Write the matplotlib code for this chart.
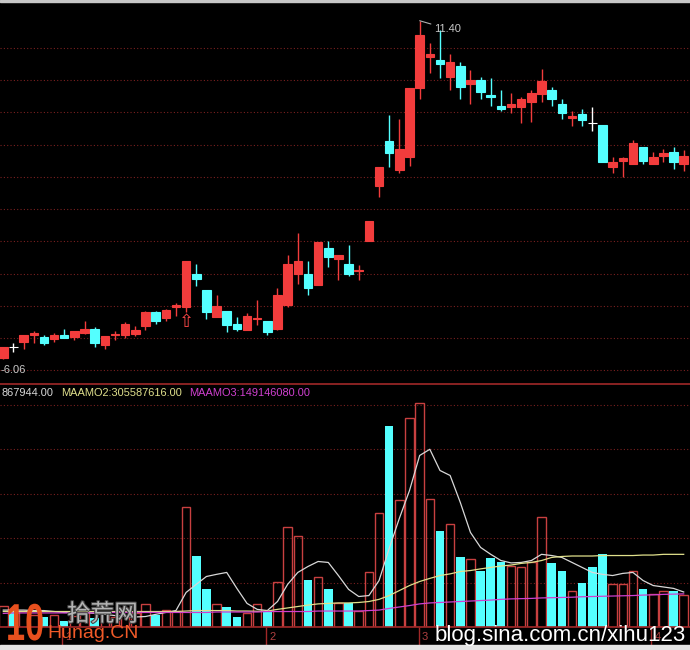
import numpy as np
import matplotlib.pyplot as plt
from matplotlib.patches import Rectangle, PathPatch
from matplotlib.textpath import TextPath
from matplotlib.font_manager import FontProperties
from matplotlib.transforms import Affine2D, IdentityTransform
import matplotlib.patheffects as pe

plt.rcParams['font.family'] = ['Liberation Sans', 'DejaVu Sans']

# 日K线: 开 / 收 / 高 / 低
opens = [6.07, 6.24, 6.32, 6.44, 6.40, 6.37, 6.43, 6.40, 6.47, 6.53,
         6.28, 6.43, 6.43, 6.45, 6.57, 6.80, 6.70, 6.88, 6.88, 7.39,
         7.15, 6.72, 6.82, 6.60, 6.51, 6.68, 6.66, 6.53, 6.90, 7.40,
         7.39, 7.23, 7.81, 7.63, 7.55, 7.44, 7.92, 8.79, 9.50, 9.04,
         9.25, 10.34, 10.82, 10.78, 10.51, 10.68, 10.40, 10.47, 10.22, 10.06,
         10.04, 10.04, 10.11, 10.24, 10.31, 10.09, 9.87, 9.92, 9.78, 9.76,
         9.09, 9.18, 9.14, 9.41, 9.14, 9.26, 9.32, 9.14]
closes = [6.24, 6.24, 6.44, 6.46, 6.31, 6.44, 6.39, 6.49, 6.53, 6.30,
          6.41, 6.45, 6.60, 6.52, 6.80, 6.65, 6.83, 6.90, 7.61, 7.32,
          6.80, 6.89, 6.59, 6.53, 6.73, 6.70, 6.48, 7.06, 7.56, 7.61,
          7.18, 7.90, 7.66, 7.70, 7.40, 7.46, 8.23, 9.09, 9.31, 9.38,
          10.34, 11.17, 10.88, 10.72, 10.74, 10.35, 10.47, 10.28, 10.19, 10.01,
          10.08, 10.17, 10.25, 10.45, 10.17, 9.94, 9.89, 9.83, 9.78, 9.16,
          9.16, 9.23, 9.47, 9.18, 9.25, 9.31, 9.16, 9.27]
highs = [6.24, 6.31, 6.44, 6.49, 6.43, 6.46, 6.53, 6.49, 6.65, 6.56,
         6.41, 6.49, 6.64, 6.57, 6.82, 6.82, 6.85, 6.94, 7.61, 7.55,
         7.15, 7.06, 6.82, 6.72, 6.78, 6.99, 6.66, 7.17, 7.69, 8.05,
         7.61, 7.90, 7.92, 7.70, 7.85, 7.54, 8.23, 9.09, 9.91, 9.84,
         10.34, 11.40, 11.05, 11.25, 10.87, 10.75, 10.62, 10.51, 10.49, 10.31,
         10.25, 10.19, 10.31, 10.63, 10.35, 10.17, 9.97, 10.01, 10.04, 9.76,
         9.24, 9.25, 9.52, 9.41, 9.33, 9.38, 9.41, 9.35]
lows = [6.06, 6.16, 6.22, 6.30, 6.27, 6.32, 6.39, 6.35, 6.45, 6.24,
        6.22, 6.35, 6.39, 6.41, 6.52, 6.61, 6.65, 6.74, 6.80, 7.20,
        6.68, 6.72, 6.48, 6.49, 6.51, 6.59, 6.44, 6.51, 6.88, 7.24,
        7.06, 7.23, 7.51, 7.31, 7.36, 7.30, 7.92, 8.61, 9.09, 9.00,
        9.10, 10.16, 10.58, 10.50, 10.30, 10.17, 10.09, 10.16, 10.05, 9.97,
        9.94, 9.79, 9.80, 10.12, 10.05, 9.84, 9.74, 9.74, 9.66, 9.16,
        9.00, 8.93, 9.14, 9.13, 9.14, 9.17, 9.05, 9.03]

# 成交额 (百万元) 及三条均线
amount = [90, 61, 69, 52, 40, 52, 27, 48, 61, 36,
          61, 44, 78, 57, 97, 52, 72, 69, 503, 298,
          160, 97, 86, 44, 58, 95, 62, 188, 419, 380,
          198, 209, 160, 100, 100, 66, 230, 480, 842, 531,
          877, 940, 536, 402, 431, 293, 286, 234, 291, 272,
          258, 251, 272, 461, 268, 234, 153, 184, 251, 305,
          179, 179, 233, 160, 137, 153, 150, 135]
maamo1 = [71, 71, 71, 69, 69, 65, 61, 61, 61, 57,
          53, 48, 44, 42, 44, 53, 61, 69, 145, 179,
          212, 221, 229, 162, 99, 74, 69, 107, 179, 229,
          254, 275, 271, 216, 158, 128, 132, 195, 330, 456,
          573, 720, 746, 657, 636, 523, 397, 334, 305, 279,
          269, 271, 279, 305, 300, 292, 271, 250, 229, 221,
          216, 225, 229, 195, 174, 168, 162, 147]
maamo2 = [65, 65, 65, 65, 65, 65, 65, 65, 65, 65,
          65, 65, 65, 65, 65, 65, 65, 65, 67, 69,
          69, 69, 69, 67, 67, 66, 67, 74, 80, 86,
          92, 97, 99, 101, 101, 103, 107, 116, 132, 153,
          174, 191, 204, 216, 223, 233, 237, 244, 250, 256,
          260, 267, 271, 279, 292, 296, 298, 298, 298, 300,
          300, 300, 300, 302, 302, 305, 305, 305]
maamo3 = [57, 59, 59, 59, 59, 59, 59, 59, 59, 59,
          61, 61, 61, 61, 61, 61, 61, 61, 61, 61,
          61, 63, 63, 63, 63, 63, 65, 65, 65, 65,
          65, 67, 67, 67, 67, 67, 69, 71, 78, 84,
          90, 97, 101, 103, 105, 107, 109, 111, 113, 116,
          118, 119, 120, 122, 123, 124, 125, 127, 128, 129,
          130, 131, 132, 134, 135, 137, 138, 139]

legend_txt = ['867944.00', 'MAAMO2:305587616.00', 'MAAMO3:149146080.00']
buy_sig = [18]
month_pos = [5.8, 25.9, 40.9, 63.8]
month_lbl = ['1', '2', '3', '4']

RED = '#f23c3c'
RED_EDGE = '#c84040'
CYAN = '#54ffff'
GRID = '#7a2020'
BG = 'black'
W, H = 690, 650

fig = plt.figure(figsize=(6.9, 6.5), dpi=100, facecolor=BG)


def box(top, bottom):
    # 像素行 -> figure 坐标
    return [0, 1 - bottom / H, 1, (bottom - top) / H]


x = np.arange(len(opens))
o, c = np.array(opens), np.array(closes)
up = c > o
col = np.where(up, RED, np.where(c < o, CYAN, 'white'))
XLIM = (-0.325, 67.62)

# ---- K线 ----
ax = fig.add_axes(box(2, 383.5))
ax.set_facecolor(BG)
ax.set_xlim(*XLIM)
ax.set_ylim(5.667, 11.696)
for v in np.linspace(5.873, 10.973, 11):
    ax.axhline(v, color=GRID, lw=0.8, ls=(0, (1, 2)), zorder=0)
ax.vlines(x, lows, highs, colors=col, lw=1, zorder=2)
ax.bar(x, np.abs(c - o), bottom=np.minimum(o, c), width=0.84,
       color=col, edgecolor=col, lw=0.8, zorder=3)

hi = int(np.argmax(highs))
ax.annotate(f'{highs[hi]:.2f}', xy=(hi, highs[hi]), xytext=(14, -8),
            textcoords='offset pixels', color='#c8c8c8', fontsize=8,
            ha='left', va='center',
            arrowprops=dict(arrowstyle='-', color='#b0b0b0', lw=0.8,
                            shrinkA=0, shrinkB=0))
lo = int(np.argmin(lows))
ax.annotate(f'-{lows[lo]:.2f}', xy=(lo, lows[lo]), xytext=(-3, -11),
            textcoords='offset pixels', color='#c8c8c8', fontsize=8,
            ha='left', va='center')
for i in buy_sig:
    ax.annotate('⇧', xy=(i, lows[i]), xytext=(0, -10), textcoords='offset pixels',
                ha='center', va='center', color='#ff4848', fontsize=13,
                family=['DejaVu Sans'])
ax.set_xticks([])
ax.set_yticks([])
for s in ax.spines.values():
    s.set_visible(False)

# ---- 成交额 ----
av = fig.add_axes(box(384, 627))
av.set_facecolor(BG)
av.set_xlim(*XLIM)
av.set_ylim(0, 1020)
for v in [186.5, 373, 559.5, 746, 932.5]:
    av.axhline(v, color=GRID, lw=0.8, ls=(0, (1, 2)), zorder=0)
amt = np.array(amount)
av.bar(x[up], amt[up], width=0.84, facecolor='none', edgecolor=RED_EDGE, lw=1, zorder=2)
av.bar(x[~up], amt[~up], width=0.84, color=CYAN, lw=0, zorder=2)
av.plot(x, maamo1, color='#d8d8d8', lw=0.9, zorder=4)
av.plot(x, maamo2, color='#e0e08c', lw=0.9, zorder=4)
av.plot(x, maamo3, color='#d040d0', lw=0.9, zorder=4)
av.set_xticks([])
av.set_yticks([])
for k, s in av.spines.items():
    if k in ('top', 'bottom'):
        s.set_color('#a02828')
        s.set_linewidth(1.2)
    else:
        s.set_visible(False)

# ---- 月份刻度条 ----
am = fig.add_axes(box(627, 645))
am.set_facecolor(BG)
am.set_xlim(*XLIM)
am.set_ylim(0, 1)
am.vlines(month_pos, 0, 1, colors='#a02828', lw=1)
for p, t in zip(month_pos, month_lbl):
    am.text(p + 0.3, 0.45, t, color='#b04040', fontsize=8, ha='left', va='center')
am.axis('off')

# 指标名称
fig.text(2 / W, 1 - 393 / H, legend_txt[0], color='#d8d8d8', fontsize=7.9, va='center')
fig.text(61 / W, 1 - 393 / H, legend_txt[1], color='#e0e08c', fontsize=7.9, va='center')
fig.text(189 / W, 1 - 393 / H, legend_txt[2], color='#d040d0', fontsize=7.9, va='center')

# 水印: 窄体 "10" 标志
logo = TextPath((0, 0), '10', size=52,
                prop=FontProperties(family='Liberation Sans', weight='bold'))
fig.add_artist(PathPatch(logo, color='#e8501e', lw=0,
                         transform=Affine2D().scale(0.66, 1).translate(6, H - 640)
                         + IdentityTransform()))
fig.text(67 / W, 1 - 621 / H, '拾荒网', color='#b4b4b4', fontsize=17,
         family=['Noto Sans CJK SC'], va='baseline',
         path_effects=[pe.withStroke(linewidth=1.5, foreground='#404040')])
fig.text(47 / W, 1 - 638 / H, 'Hunag.CN', color='#f05a28', fontsize=14, va='baseline')
fig.text(435 / W, 1 - 641.5 / H, 'blog.sina.com.cn/xihu123', color='white', fontsize=16, va='baseline')

# 窗口边框
fig.patches.append(Rectangle((0, 1 - 2 / H), 1, 2 / H, transform=fig.transFigure, color='#c8c8c8'))
fig.patches.append(Rectangle((0, 0), 1, 5 / H, transform=fig.transFigure, color='#e4e4e4'))

fig.savefig('out.png', dpi=100, facecolor=BG)
